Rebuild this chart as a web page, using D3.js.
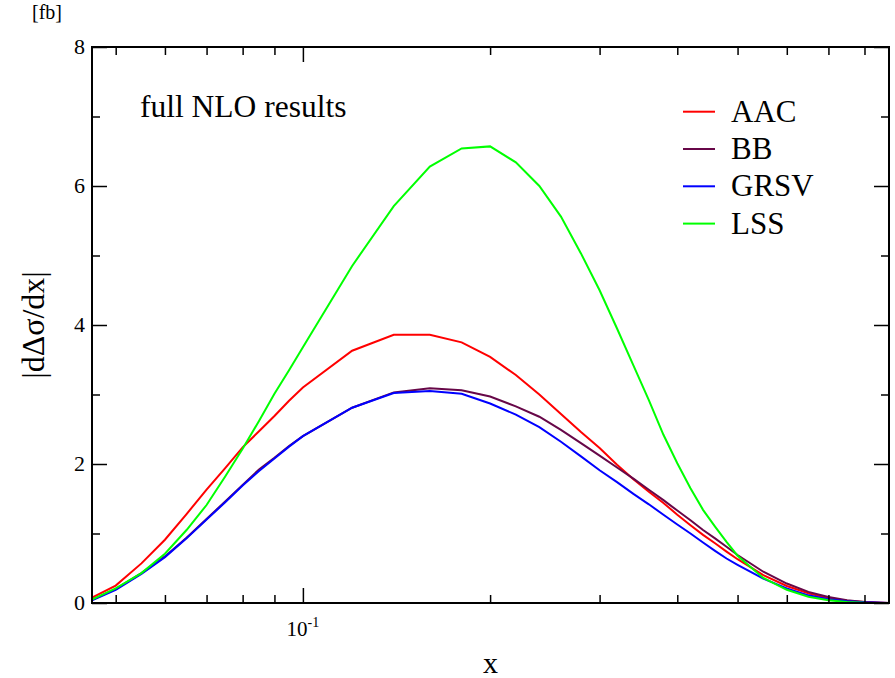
<!DOCTYPE html>
<html><head><meta charset="utf-8">
<script src="https://cdn.jsdelivr.net/npm/d3@7"></script>
<style>body{margin:0;background:#fff} text{font-family:"Liberation Serif","Times New Roman",serif;fill:#000}</style>
</head><body><svg id="c" width="895" height="678"></svg>
<script>
const xValues = [0.0458,0.05,0.055,0.06,0.065,0.07,0.075,0.08,0.085,0.09,0.095,0.10,0.12,0.14,0.16,0.18,0.20,0.22,0.24,0.26,0.28,0.30,0.32,0.34,0.36,0.38,0.40,0.42,0.44,0.46,0.48,0.50,0.55,0.60,0.65,0.70,0.75,0.80,0.85,0.876];
const aac  = [0.077,0.25,0.57,0.91,1.28,1.63,1.94,2.24,2.47,2.69,2.91,3.10,3.63,3.86,3.86,3.75,3.54,3.28,3.00,2.72,2.46,2.23,1.99,1.78,1.60,1.44,1.27,1.12,0.98,0.86,0.74,0.63,0.40,0.245,0.14,0.067,0.034,0.014,0.005,0];
const bb   = [0.045,0.20,0.43,0.67,0.94,1.21,1.46,1.70,1.92,2.09,2.26,2.40,2.81,3.03,3.09,3.06,2.97,2.83,2.68,2.49,2.30,2.12,1.95,1.79,1.63,1.48,1.33,1.19,1.05,0.93,0.81,0.69,0.45,0.28,0.16,0.086,0.04,0.015,0.005,0];
const grsv = [0.04,0.19,0.42,0.66,0.93,1.20,1.45,1.69,1.90,2.08,2.25,2.40,2.81,3.02,3.05,3.01,2.87,2.71,2.53,2.32,2.11,1.91,1.74,1.57,1.42,1.27,1.13,1.00,0.87,0.75,0.64,0.55,0.35,0.21,0.11,0.053,0.024,0.01,0.003,0];
const lss  = [0.05,0.21,0.43,0.71,1.05,1.41,1.82,2.22,2.62,3.01,3.35,3.68,4.85,5.71,6.28,6.54,6.57,6.34,6.00,5.56,5.03,4.50,3.95,3.42,2.92,2.42,2.01,1.65,1.34,1.10,0.88,0.68,0.36,0.19,0.09,0.04,0.015,0.005,0.001,0];
const seriesNames = ["AAC","BB","GRSV","LSS"];
const seriesColors = ["#ff0000","#670748","#0000ff","#00ff00"];
const xMajorTicks = [0.1];
const xMinorTicks = [0.05,0.06,0.07,0.08,0.09,0.2,0.3,0.4,0.5,0.6,0.7,0.8];
const yMajorTicks = [0,2,4,6,8];
const yMinorTicks = [1,3,5,7];
const xDomain = [0.0458,0.876];
const yDomain = [0,8];

const svg = d3.select("#c");
const L=92,R=889,T=47,B=603;
const x = d3.scaleLog().domain(xDomain).range([L,R]);
const y = d3.scaleLinear().domain(yDomain).range([B,T]);

svg.append("defs").append("clipPath").attr("id","clip")
  .append("rect").attr("x",L).attr("y",T).attr("width",R-L).attr("height",B-T);

// series
const allSeries = [aac,bb,grsv,lss];
const line = d3.line().x(d=>x(d[0])).y(d=>y(d[1]));
const g = svg.append("g").attr("clip-path","url(#clip)");
allSeries.forEach((s,i)=>{
  g.append("path").datum(xValues.map((xv,j)=>[xv,s[j]]))
   .attr("d",line).attr("fill","none").attr("stroke",seriesColors[i]).attr("stroke-width",2);
});

// ticks (inward on all four sides)
function ax(gen, tr){
  const a = svg.append("g").attr("transform",tr).call(gen);
  a.select(".domain").remove();
  a.selectAll(".tick line").attr("stroke","#000").attr("stroke-width",1.5);
  a.selectAll(".tick text").remove();
}
ax(d3.axisBottom(x).tickValues(xMajorTicks).tickSize(-15).tickFormat(""),`translate(0,${B})`);
ax(d3.axisBottom(x).tickValues(xMinorTicks).tickSize(-8).tickFormat(""),`translate(0,${B})`);
ax(d3.axisTop(x).tickValues(xMajorTicks).tickSize(-15).tickFormat(""),`translate(0,${T})`);
ax(d3.axisTop(x).tickValues(xMinorTicks).tickSize(-8).tickFormat(""),`translate(0,${T})`);
ax(d3.axisLeft(y).tickValues(yMajorTicks).tickSize(-15).tickFormat(""),`translate(${L},0)`);
ax(d3.axisLeft(y).tickValues(yMinorTicks).tickSize(-8).tickFormat(""),`translate(${L},0)`);
ax(d3.axisRight(y).tickValues(yMajorTicks).tickSize(-15).tickFormat(""),`translate(${R},0)`);
ax(d3.axisRight(y).tickValues(yMinorTicks).tickSize(-8).tickFormat(""),`translate(${R},0)`);

// frame
svg.append("rect").attr("x",L).attr("y",T).attr("width",R-L).attr("height",B-T)
  .attr("fill","none").attr("stroke","#000").attr("stroke-width",2);

// y tick labels
svg.selectAll(".ylab").data(yMajorTicks).enter().append("text")
  .attr("x",L-7).attr("y",d=>y(d)+7).attr("text-anchor","end")
  .attr("font-size",22).text(d=>d);

// x tick label 10^-1
xMajorTicks.forEach(v=>{
  const t = svg.append("text").attr("x",x(v)).attr("y",636).attr("text-anchor","middle").attr("font-size",21);
  t.append("tspan").text("10");
  t.append("tspan").attr("dy",-9).attr("font-size",14).text("-1");
});

// axis titles
svg.append("text").attr("x",(L+R)/2).attr("y",673).attr("text-anchor","middle").attr("font-size",30).text("x");
svg.append("text").attr("transform",`translate(44,${(T+B)/2}) rotate(-90)`).attr("text-anchor","middle")
  .attr("font-size",32).text("|dΔσ/dx|");
svg.append("text").attr("x",32).attr("y",19).attr("font-size",20).text("[fb]");
svg.append("text").attr("x",140).attr("y",117).attr("font-size",31.5).text("full NLO results");

// legend
seriesNames.forEach((n,i)=>{
  const ly = 111.7 + i*37.3;
  svg.append("line").attr("x1",683).attr("x2",715).attr("y1",ly).attr("y2",ly)
    .attr("stroke",seriesColors[i]).attr("stroke-width",2);
  svg.append("text").attr("x",731).attr("y",ly+10).attr("font-size",31).text(n);
});
</script></body></html>
